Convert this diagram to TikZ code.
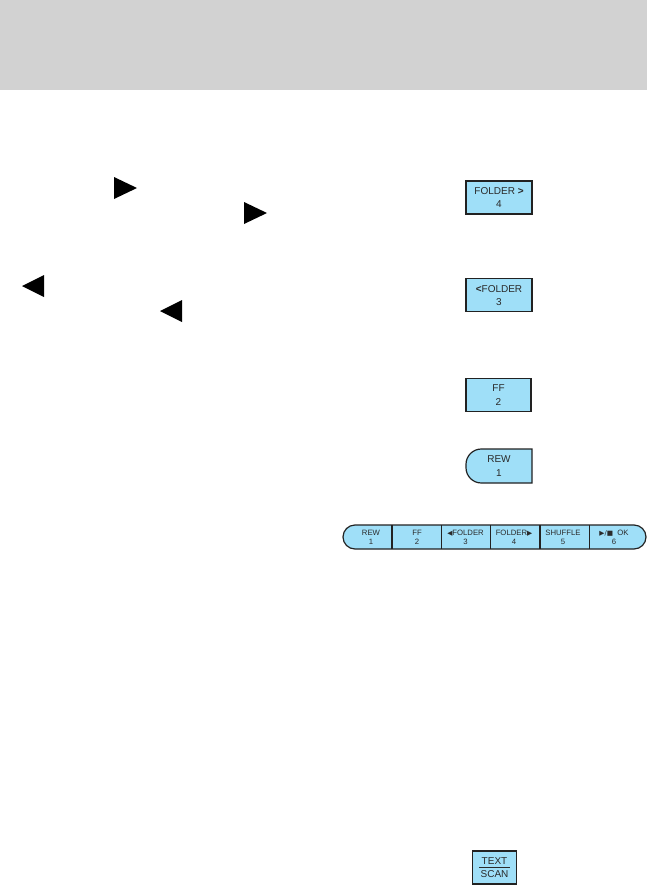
\documentclass[tikz,border=0pt]{standalone}
\usepackage{fontspec}
\setmainfont{Liberation Sans}
\newfontfamily\symfont{DejaVu Sans}
\definecolor{KeyBlue}{HTML}{9FDFF8}
\definecolor{KeyEdge}{HTML}{222222}
\definecolor{KeyText}{HTML}{2A2A2A}
\definecolor{HeadGray}{HTML}{D2D2D2}
\tikzset{
  keybox/.style={draw=KeyEdge,fill=KeyBlue,line width=0.9pt,minimum width=49.5pt,minimum height=24.75pt,
    inner sep=0pt,align=center,text=KeyText,font=\fontsize{7.5}{10}\selectfont},
  keyline/.style={draw=KeyEdge,fill=KeyBlue,line width=0.9pt},
  keytext/.style={inner sep=0pt,align=center,text=KeyText,font=\fontsize{7.5}{10}\selectfont},
  bartext/.style={inner sep=0pt,align=center,text=KeyText,font=\fontsize{5.8}{6.8}\selectfont}
}

\begin{document}
\begin{tikzpicture}[x=0.75pt,y=-0.75pt]
\path[use as bounding box] (0,0) rectangle (647,885);
\fill[HeadGray] (0,0) rectangle (647,90);
% arrow marks in the text column
\fill[black] (114,177) -- (137,188) -- (114,199) -- cycle;
\fill[black] (244,202) -- (267,213) -- (244,224) -- cycle;
\fill[black] (44,275) -- (22,286) -- (44,297) -- cycle;
\fill[black] (182,300) -- (160,311) -- (182,322) -- cycle;
% single keys
\node[keybox] (fwd) at (499,197.5) {FOLDER {\bfseries >}\\4};
\node[keybox] (back) at (499,295.3) {{\bfseries <}FOLDER\\3};
\node[keybox,minimum width=48.75pt] (ff) at (498.5,395) {FF\\2};
\draw[keyline] (532,483) -- (532,449) [rounded corners=11.5pt] -- (466,449) -- (466,483) [sharp corners] -- (532,483) -- cycle;
\node[keytext] (rew) at (499,466) {REW\\1};
% key bar
\draw[keyline,rounded corners=9pt] (343,525) rectangle (646,549);
\draw[KeyEdge,line width=0.9pt] (392,525) -- (392,549);
\draw[KeyEdge,line width=0.9pt] (441.5,525) -- (441.5,549);
\draw[KeyEdge,line width=0.9pt] (490.5,525) -- (490.5,549);
\draw[KeyEdge,line width=0.9pt] (540,525) -- (540,549);
\draw[KeyEdge,line width=0.9pt] (589.5,525) -- (589.5,549);
\node[bartext] (bar1) at (371,537.5) {REW\\1};
\node[bartext] (bar2) at (417,537.5) {FF\\2};
\node[bartext] (bar3) at (465.5,537.5) {{\symfont\fontsize{5}{6.8}\selectfont ◀}FOLDER\\3};
\node[bartext] (bar4) at (514,537.5) {FOLDER{\symfont\fontsize{5}{6.8}\selectfont ▶}\\4};
\node[bartext] (bar5) at (563,537.5) {SHUFFLE\\5};
\node[bartext] (bar6) at (614,537.5) {{\symfont\fontsize{5}{6.8}\selectfont ▶/■}\ \ OK\\6};
% text scan key
\node[keybox,minimum width=33.3pt] (scan) at (494.5,867.5) {TEXT\\SCAN};
\draw[KeyText,line width=0.8pt] ([xshift=-11.6pt]scan.center) -- ([xshift=11.6pt]scan.center);
\end{tikzpicture}
\end{document}
